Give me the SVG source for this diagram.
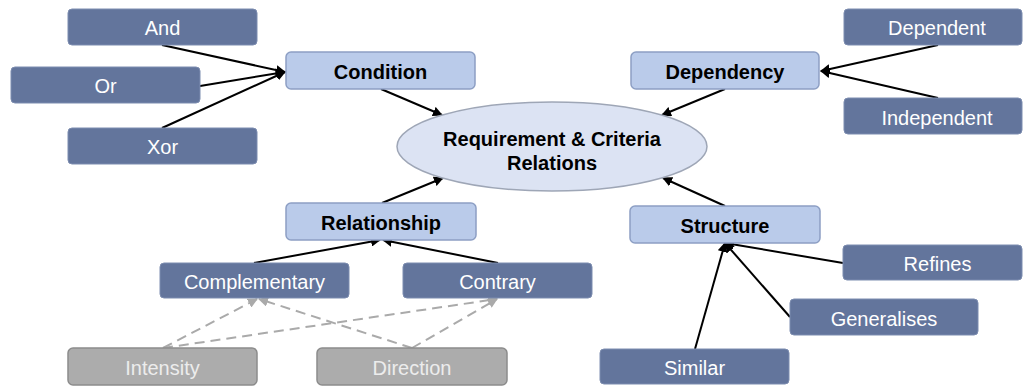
<svg xmlns="http://www.w3.org/2000/svg" width="1024" height="387" viewBox="0 0 1024 387">
<defs>
<style>
.dark rect{fill:#63759c;stroke:#7d8db0;stroke-width:1}
.dark text{fill:#ffffff;font-family:"Liberation Sans",Arial,sans-serif;font-size:20px;text-anchor:middle}
.light rect{fill:#bacbea;stroke:#8d9fc4;stroke-width:1.5}
.light text{fill:#000000;font-family:"Liberation Sans",Arial,sans-serif;font-size:20px;font-weight:bold;text-anchor:middle}
.grey rect{fill:#acacac;stroke:#8c8c8c;stroke-width:1.5}
.grey text{fill:#ececec;font-family:"Liberation Sans",Arial,sans-serif;font-size:20px;text-anchor:middle}
.conn{stroke:#000;stroke-width:2;fill:none;marker-end:url(#ah)}
.dash{stroke:#aaaaaa;stroke-width:2;fill:none;stroke-dasharray:10 6;marker-end:url(#ahg)}
</style>
<marker id="ah" viewBox="0 0 10 10" refX="9" refY="5" markerWidth="5" markerHeight="5" orient="auto" markerUnits="strokeWidth">
<path d="M0,0 L10,5 L0,10 z" fill="#000"/>
</marker>
<marker id="ahg" viewBox="0 0 10 10" refX="9" refY="5" markerWidth="5" markerHeight="5" orient="auto" markerUnits="strokeWidth">
<path d="M0,0 L10,5 L0,10 z" fill="#aaaaaa"/>
</marker>
</defs>
<rect width="1024" height="387" fill="#ffffff"/>

<g id="connectors">
<line class="conn" x1="162" y1="45" x2="285" y2="72"/>
<line class="conn" x1="200" y1="86" x2="285" y2="72"/>
<line class="conn" x1="162" y1="128" x2="285" y2="72"/>
<line class="conn" x1="381" y1="89" x2="442" y2="115"/>
<line class="conn" x1="938" y1="45" x2="821" y2="71"/>
<line class="conn" x1="938" y1="98" x2="821" y2="71"/>
<line class="conn" x1="725" y1="89" x2="662" y2="115"/>
<line class="conn" x1="382" y1="203" x2="443" y2="178"/>
<line class="conn" x1="725" y1="206" x2="663" y2="178"/>
<line class="conn" x1="254" y1="263" x2="380" y2="240"/>
<line class="conn" x1="498" y1="263" x2="383" y2="240"/>
<line class="conn" x1="843" y1="263" x2="725" y2="243"/>
<line class="conn" x1="790" y1="317" x2="725" y2="243"/>
<line class="conn" x1="695" y1="349" x2="725" y2="243"/>
<line class="dash" x1="163" y1="348" x2="257" y2="299"/>
<line class="dash" x1="163" y1="348" x2="497" y2="299"/>
<line class="dash" x1="412" y1="348" x2="497" y2="299"/>
<line class="dash" x1="412" y1="348" x2="259" y2="299"/>
</g>

<g id="center">
<ellipse cx="552" cy="146.5" rx="155" ry="44.5" fill="#dce3f3" stroke="#9ea6b6" stroke-width="1.5"/>
<text x="552" y="146" font-family="Liberation Sans,Arial,sans-serif" font-size="20" font-weight="bold" text-anchor="middle">Requirement &amp; Criteria</text>
<text x="552" y="170" font-family="Liberation Sans,Arial,sans-serif" font-size="20" font-weight="bold" text-anchor="middle">Relations</text>
</g>

<g id="and" class="dark"><rect x="68" y="9" width="189" height="36" rx="4"/><text x="162.5" y="35">And</text></g>
<g id="or" class="dark"><rect x="11" y="67" width="189" height="36" rx="4"/><text x="105.5" y="93">Or</text></g>
<g id="xor" class="dark"><rect x="68" y="128" width="189" height="36" rx="4"/><text x="162.5" y="154">Xor</text></g>
<g id="condition" class="light"><rect x="286" y="52" width="189" height="37" rx="5"/><text x="380.5" y="79">Condition</text></g>

<g id="dependent" class="dark"><rect x="844" y="9" width="178" height="36" rx="4"/><text x="937" y="35">Dependent</text></g>
<g id="independent" class="dark"><rect x="844" y="98" width="178" height="36" rx="4"/><text x="937" y="125">Independent</text></g>
<g id="dependency" class="light"><rect x="631" y="52" width="188" height="37" rx="5"/><text x="725" y="79">Dependency</text></g>

<g id="relationship" class="light"><rect x="286" y="203" width="190" height="37" rx="5"/><text x="381" y="230">Relationship</text></g>
<g id="complementary" class="dark"><rect x="160" y="263" width="189" height="35" rx="4"/><text x="254.5" y="289">Complementary</text></g>
<g id="contrary" class="dark"><rect x="403" y="263" width="189" height="35" rx="4"/><text x="497.5" y="289">Contrary</text></g>
<g id="intensity" class="grey"><rect x="68" y="348" width="189" height="37" rx="5"/><text x="162.5" y="375">Intensity</text></g>
<g id="direction" class="grey"><rect x="317" y="348" width="190" height="37" rx="5"/><text x="412" y="375">Direction</text></g>

<g id="structure" class="light"><rect x="630" y="206" width="190" height="37" rx="5"/><text x="725" y="233">Structure</text></g>
<g id="refines" class="dark"><rect x="843" y="245" width="179" height="35" rx="4"/><text x="937.5" y="271">Refines</text></g>
<g id="generalises" class="dark"><rect x="790" y="299" width="188" height="36" rx="4"/><text x="884" y="326">Generalises</text></g>
<g id="similar" class="dark"><rect x="600" y="349" width="189" height="35" rx="4"/><text x="694.5" y="375">Similar</text></g>
</svg>
